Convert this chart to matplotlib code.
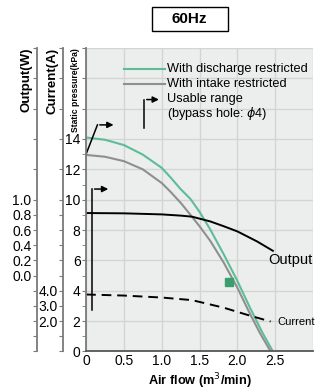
import numpy as np
import matplotlib
matplotlib.use("Agg")
import matplotlib.pyplot as plt
from matplotlib.patches import Rectangle

plt.rcParams['font.family'] = ['Liberation Sans Narrow', 'Liberation Sans', 'DejaVu Sans']

# air flow (m3/min) vs static pressure (kPa)
flow_discharge = [0, 0.25, 0.5, 0.75, 1.0, 1.12, 1.25, 1.38, 1.5, 1.64, 1.82, 2.0, 2.17, 2.33, 2.47]
discharge = [14.1, 13.95, 13.6, 12.97, 12.1, 11.45, 10.7, 10.05, 9.2, 8.05, 6.4, 4.65, 2.85, 1.25, 0.0]
flow_intake = [0, 0.25, 0.5, 0.75, 1.0, 1.12, 1.25, 1.38, 1.5, 1.64, 1.82, 2.0, 2.17, 2.3, 2.44]
intake = [12.95, 12.83, 12.54, 12.0, 11.1, 10.5, 9.8, 9.0, 8.25, 7.3, 5.85, 4.2, 2.45, 1.2, 0.0]

# output and current curves, drawn on the pressure scale
flow_output = [0, 0.5, 1.0, 1.25, 1.4, 1.64, 1.82, 2.0, 2.26, 2.47]
output = [9.12, 9.1, 9.03, 8.95, 8.88, 8.57, 8.25, 7.91, 7.25, 6.63]
flow_current = [0, 0.5, 1.0, 1.4, 1.82, 2.17, 2.44]
current = [3.75, 3.68, 3.55, 3.38, 2.88, 2.35, 1.97]

marker_point = (1.89, 4.6)

green = '#5cbd97'
gray = '#8f8f8f'
spine = '#7a7a7a'

fig = plt.figure(figsize=(3.2, 3.9), dpi=100)
ax = fig.add_axes([0.269, 0.099, 0.709, 0.778])
ax.set_facecolor('#eceeed')
ax.set_xlim(0, 3.0)
ax.set_ylim(0, 20)
ax.set_xticks(np.arange(0, 3.01, 0.5))
ax.set_xticklabels(['0', '0.5', '1.0', '1.5', '2.0', '2.5', ''])
ax.set_yticks(np.arange(0, 20.1, 2))
ax.set_yticklabels([str(v) if v <= 14 else '' for v in range(0, 21, 2)])
ax.set_yticks(np.arange(1, 14, 2), minor=True)
ax.grid(True, color='#d2d5d4', lw=1.0)
ax.set_axisbelow(True)
for s in ['top', 'right']:
    ax.spines[s].set_visible(False)
ax.spines['left'].set_color(spine)
ax.spines['bottom'].set_color('#555555')
ax.spines['left'].set_linewidth(1.3)
ax.spines['bottom'].set_linewidth(1.3)
ax.tick_params(axis='both', which='both', color=spine, labelsize=10, length=3, pad=1)
ax.tick_params(axis='x', length=0, pad=2)

ax.plot(flow_discharge, discharge, color=green, lw=1.5)
ax.plot(flow_intake, intake, color=gray, lw=1.5)
ax.plot(flow_output, output, color='black', lw=1.4)
ax.plot(flow_current, current, color='black', lw=1.4, dashes=(5, 3))
ax.plot(*marker_point, marker='s', color='#3a9e6e', markersize=5.5)

ax.text(2.41, 6.05, 'Output', fontsize=10.5, family=['Liberation Sans', 'DejaVu Sans'], va='center')
ax.text(2.53, 1.95, 'Current', fontsize=8, va='center')

# usable range arrows
arrow_kw = dict(arrowstyle='-|>', color='black', lw=1.1, mutation_scale=9)
ax.plot([0, 0.15], [13.0, 14.93], color='black', lw=1.1)
ax.annotate('', xy=(0.40, 14.93), xytext=(0.145, 14.93), arrowprops=arrow_kw)
ax.plot([0.08, 0.08], [2.7, 10.7], color='black', lw=1.1)
ax.annotate('', xy=(0.33, 10.7), xytext=(0.075, 10.7), arrowprops=arrow_kw)

# legend
ax.plot([0.167, 0.35], [0.931, 0.931], color=green, lw=1.5, transform=ax.transAxes)
ax.plot([0.167, 0.35], [0.882, 0.882], color=gray, lw=1.5, transform=ax.transAxes)
ax.plot([0.77, 0.77], [14.7, 16.6], color='black', lw=1.1)
ax.annotate('', xy=(1.0, 16.6), xytext=(0.765, 16.6), arrowprops=arrow_kw)
leg_font = ['Liberation Sans', 'DejaVu Sans']
ax.text(0.357, 0.931, 'With discharge restricted', transform=ax.transAxes, fontsize=9.2, va='center', family=leg_font)
ax.text(0.357, 0.882, 'With intake restricted', transform=ax.transAxes, fontsize=9.2, va='center', family=leg_font)
ax.text(0.357, 0.833, 'Usable range', transform=ax.transAxes, fontsize=9.2, va='center', family=leg_font)
ax.text(0.357, 0.784, '(bypass hole: $\\phi$4)', transform=ax.transAxes, fontsize=9.2, va='center', family=leg_font)

# extra scales: current (A) and output (W)
def side_axis(offset, lim, ticks, labels):
    a = ax.twinx()
    a.set_ylim(*lim)
    for s in ['top', 'right', 'bottom']:
        a.spines[s].set_visible(False)
    a.spines['left'].set_visible(True)
    a.spines['left'].set_position(('axes', offset))
    a.spines['left'].set_color(spine)
    a.spines['left'].set_linewidth(1.3)
    a.yaxis.set_ticks_position('left')
    a.yaxis.set_label_position('left')
    a.set_yticks(ticks)
    a.set_yticklabels(labels)
    a.tick_params(axis='y', color=spine, labelsize=10, length=3, pad=1)
    return a

pres_ticks = list(range(0, 11)) + [12, 14, 16, 18, 20]
cur_labels = {2: '2.0', 3: '3.0', 4: '4.0'}
side_axis(-0.101, (0, 20), pres_ticks, [cur_labels.get(t, '') for t in pres_ticks])
out_ticks = [(t - 5) / 5 for t in pres_ticks]
out_labels = ['%.1f' % w if 0 <= w <= 1.0001 else '' for w in out_ticks]
side_axis(-0.216, (-1, 3), out_ticks, out_labels)

ax.text(-0.048, 1.0, 'Static pressure(kPa)', transform=ax.transAxes, rotation=90,
        ha='center', va='top', fontsize=6.2, fontweight='bold')
ax.text(-0.150, 1.0, 'Current(A)', transform=ax.transAxes, rotation=90,
        ha='center', va='top', fontsize=9.5, fontweight='bold')
ax.text(-0.264, 1.0, 'Output(W)', transform=ax.transAxes, rotation=90,
        ha='center', va='top', fontsize=9.5, fontweight='bold')
ax.set_xlabel('Air flow (m$^3$/min)', fontsize=9.2, fontweight='bold',
              family=leg_font, labelpad=2)

fig.patches.append(Rectangle((0.475, 0.9205), 0.2375, 0.0615, transform=fig.transFigure,
                             fill=False, edgecolor='black', lw=1.0))
fig.text(0.5925, 0.951, '60Hz', ha='center', va='center', fontsize=11,
         fontweight='bold', family=leg_font)

fig.savefig('out.png', dpi=100)
